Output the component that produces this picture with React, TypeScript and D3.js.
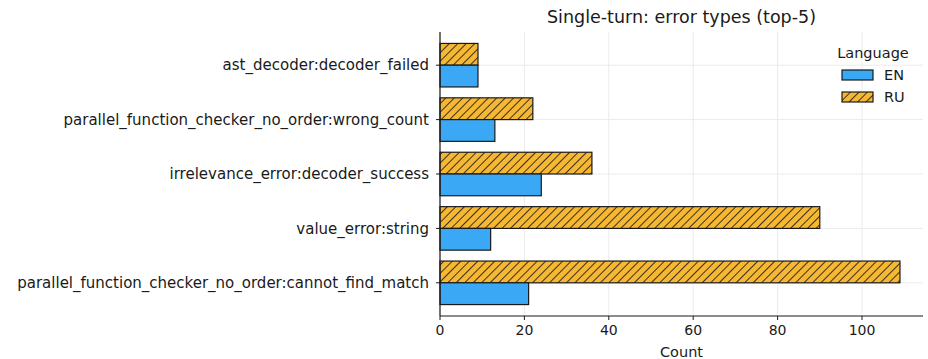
import React from "react";
import * as d3 from "d3";

const categories = [
  "ast_decoder:decoder_failed",
  "parallel_function_checker_no_order:wrong_count",
  "irrelevance_error:decoder_success",
  "value_error:string",
  "parallel_function_checker_no_order:cannot_find_match",
];
const enValues = [9, 13, 24, 12, 21];
const ruValues = [9, 22, 36, 90, 109];
const xTicks = [0, 20, 40, 60, 80, 100];
const seriesNames = ["EN", "RU"];

const W = 928;
const H = 359;
const FONT = "DejaVu Sans, sans-serif";
const EN_COLOR = "#3aa8f4";
const RU_COLOR = "#f6b833";
const INK = "#1a1a1a";

export default function App() {
  const left = 440;
  const right = 923;
  const top = 32;
  const bottom = 316;

  const x = d3.scaleLinear().domain([0, 100]).range([left, 862]);
  const y = d3
    .scaleBand<string>()
    .domain(categories)
    .range([top, bottom])
    .paddingInner(0)
    .paddingOuter(0.11);
  const bandH = y.bandwidth();
  const barH = bandH * 0.4;
  const cy = (c: string) => (y(c) as number) + bandH / 2;

  return (
    <svg
      width={W}
      height={H}
      style={{ position: "absolute", left: 0, top: 0, background: "#fff" }}
      fontFamily={FONT}
    >
      <defs>
        <pattern
          id="hatch"
          patternUnits="userSpaceOnUse"
          width="6"
          height="6"
          patternTransform="rotate(45)"
        >
          <rect width="6" height="6" fill={RU_COLOR} />
          <line x1="0" y1="0" x2="0" y2="6" stroke={INK} strokeWidth="1.7" />
        </pattern>
      </defs>
      {/* grid */}
      {xTicks.map((t) => (
        <line
          key={"gx" + t}
          x1={x(t)}
          x2={x(t)}
          y1={top}
          y2={bottom}
          stroke="#ebebeb"
          strokeWidth={1}
        />
      ))}
      {categories.map((c) => (
        <line
          key={"gy" + c}
          x1={left}
          x2={right}
          y1={cy(c)}
          y2={cy(c)}
          stroke="#ebebeb"
          strokeWidth={1}
        />
      ))}
      {/* bars */}
      {categories.map((c, i) => (
        <g key={"b" + c}>
          <rect
            x={x(0)}
            y={cy(c) - barH}
            width={x(ruValues[i]) - x(0)}
            height={barH}
            fill="url(#hatch)"
            stroke={INK}
            strokeWidth={1.2}
          />
          <rect
            x={x(0)}
            y={cy(c)}
            width={x(enValues[i]) - x(0)}
            height={barH}
            fill={EN_COLOR}
            stroke={INK}
            strokeWidth={1.2}
          />
        </g>
      ))}
      {/* axes */}
      <line x1={left} x2={left} y1={top} y2={bottom} stroke={INK} strokeWidth={1.2} />
      <line x1={left} x2={right} y1={bottom} y2={bottom} stroke={INK} strokeWidth={1.2} />
      {xTicks.map((t) => (
        <g key={"tx" + t}>
          <line x1={x(t)} x2={x(t)} y1={bottom} y2={bottom + 4} stroke={INK} />
          <text
            x={x(t)}
            y={bottom + 19}
            textAnchor="middle"
            fontSize={14}
            fill={INK}
          >
            {t}
          </text>
        </g>
      ))}
      {categories.map((c) => (
        <g key={"ty" + c}>
          <line x1={left - 4} x2={left} y1={cy(c)} y2={cy(c)} stroke={INK} />
          <text
            x={left - 11}
            y={cy(c)}
            dy="0.35em"
            textAnchor="end"
            fontSize={15}
            fill={INK}
          >
            {c}
          </text>
        </g>
      ))}
      <text x={(left + right) / 2} y={357} textAnchor="middle" fontSize={14.5} fill={INK}>
        Count
      </text>
      <text x={(left + right) / 2} y={23} textAnchor="middle" fontSize={17.5} fill={INK}>
        Single-turn: error types (top-5)
      </text>
      {/* legend */}
      <g>
        <text x={873} y={58} textAnchor="middle" fontSize={14.5} fill={INK}>
          Language
        </text>
        {seriesNames.map((s, i) => (
          <g key={"lg" + s}>
            <rect
              x={842}
              y={70 + i * 22}
              width={31}
              height={10}
              fill={s === "EN" ? EN_COLOR : "url(#hatch)"}
              stroke={INK}
              strokeWidth={1.2}
            />
            <text x={884} y={75 + i * 22} dy="0.35em" fontSize={14.5} fill={INK}>
              {s}
            </text>
          </g>
        ))}
      </g>
    </svg>
  );
}
